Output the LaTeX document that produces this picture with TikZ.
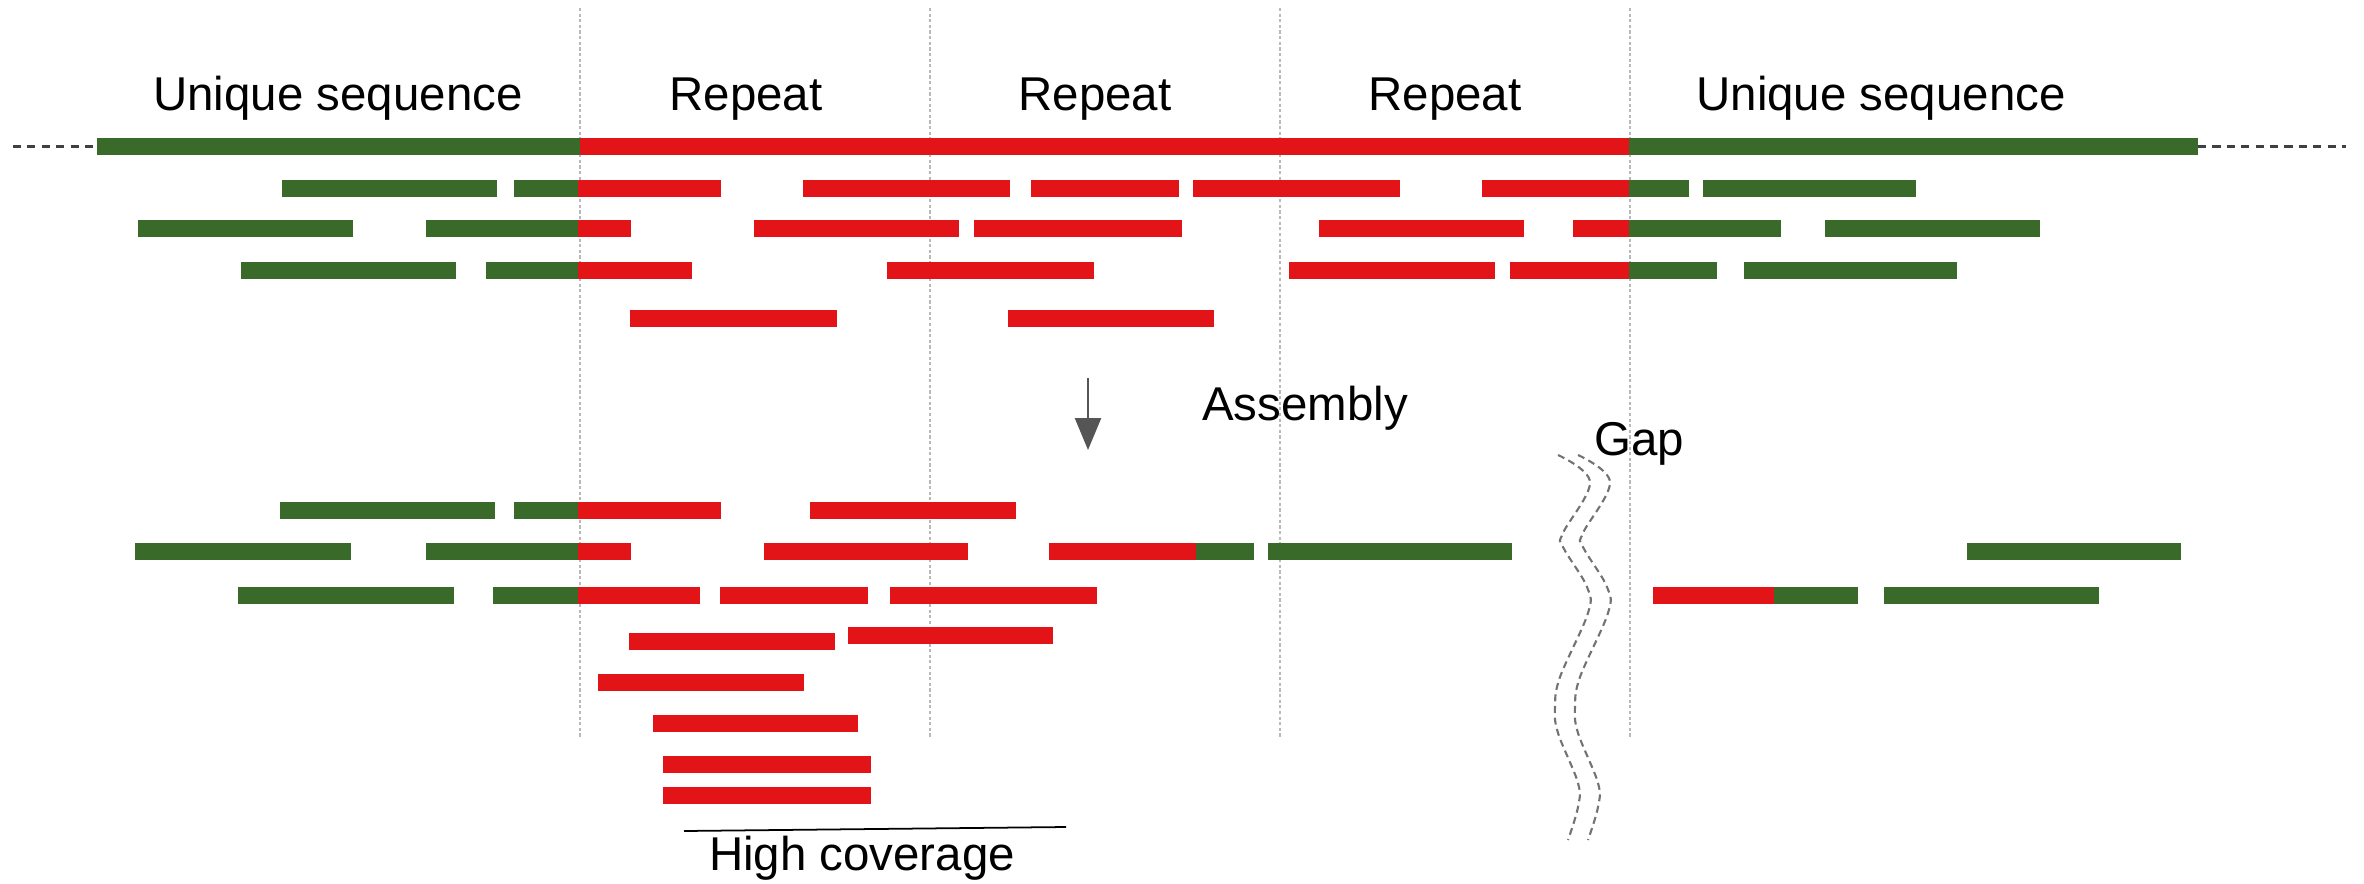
\documentclass[tikz,border=0pt]{standalone}
\usepackage{fontspec}
\setmainfont{Liberation Sans}
\usetikzlibrary{arrows.meta}

\definecolor{uniqgreen}{RGB}{58,106,42}
\definecolor{repred}{RGB}{226,20,24}
\definecolor{arrowgray}{RGB}{85,85,85}

\begin{document}
\begin{tikzpicture}[
  lbl/.style={
      font=\fontsize{13.5}{16}\selectfont,
      inner sep=0pt,
      anchor=base
  },
  uniq/.style={
      fill=uniqgreen
  },
  rep/.style={
      fill=repred
  },
  divider/.style={
      gray!55,
      line width=0.5pt,
      dash pattern=on 0.9pt off 0.7pt
  },
  ext/.style={
      black!75,
      line width=0.6pt,
      dash pattern=on 2.3pt off 1.8pt
  },
  gapline/.style={
      black!55,
      line width=0.6pt,
      dash pattern=on 2pt off 1.3pt
  },
  arrow/.style={
      -{Triangle[length=3.2mm,width=2.6mm]},
      arrowgray,
      line width=0.7pt
  }
]

\useasboundingbox (0,0) rectangle (23.64,-8.83);

% ==================================================
% Region dividers and titles
% ==================================================

\foreach \x in {5.80,9.30,12.80,16.30}
  \draw[divider] (\x,-0.08) -- (\x,-7.38);

\node[lbl] (uleft)  at (3.38,-1.10)  {Unique sequence};
\node[lbl] (rep1)   at (7.46,-1.10)  {Repeat};
\node[lbl] (rep2)   at (10.95,-1.10) {Repeat};
\node[lbl] (rep3)   at (14.45,-1.10) {Repeat};
\node[lbl] (uright) at (18.81,-1.10) {Unique sequence};

% ==================================================
% Genome and reads
% ==================================================

\draw[ext] (0.13,-1.465) -- (0.97,-1.465);
\draw[ext] (21.98,-1.465) -- (23.46,-1.465);
\fill[uniq] (0.97,-1.38) rectangle (5.80,-1.55);
\fill[rep]  (5.80,-1.38) rectangle (16.29,-1.55);
\fill[uniq] (16.29,-1.38) rectangle (21.98,-1.55);

% unique reads
\foreach \a/\b/\y in {
    2.82/4.97/-1.885, 17.03/19.16/-1.885,
    1.38/3.53/-2.285, 18.25/20.40/-2.285,
    2.41/4.56/-2.70,  17.44/19.57/-2.70}
  \fill[uniq] (\a,\y+0.085) rectangle (\b,\y-0.085);

% repeat reads
\foreach \a/\b/\y in {
    8.03/10.10/-1.885, 10.31/11.79/-1.885, 11.93/14.00/-1.885,
    7.54/9.59/-2.285,  9.74/11.82/-2.285,  13.19/15.24/-2.285,
    8.87/10.94/-2.70,  12.89/14.95/-2.70,
    6.30/8.37/-3.185,  10.08/12.14/-3.185}
  \fill[rep] (\a,\y+0.085) rectangle (\b,\y-0.085);

% reads across the left border
\foreach \a/\m/\b/\y in {
    5.14/5.78/7.21/-1.885,
    4.26/5.78/6.31/-2.285,
    4.86/5.78/6.92/-2.70}
{
  \fill[uniq] (\a,\y+0.085) rectangle (\m,\y-0.085);
  \fill[rep]  (\m,\y+0.085) rectangle (\b,\y-0.085);
}

% reads across the right border
\foreach \a/\m/\b/\y in {
    14.82/16.29/16.89/-1.885,
    15.73/16.29/17.81/-2.285,
    15.10/16.29/17.17/-2.70}
{
  \fill[rep]  (\a,\y+0.085) rectangle (\m,\y-0.085);
  \fill[uniq] (\m,\y+0.085) rectangle (\b,\y-0.085);
}

% ==================================================
% Assembly step
% ==================================================

\coordinate (arrtop) at (10.88,-3.78);
\coordinate (arrtip) at (10.88,-4.50);
\draw[arrow] (arrtop) -- (arrtip);

\node[lbl] (asm) at (13.05,-4.20) {Assembly};

% ==================================================
% Assembled contigs
% ==================================================

% unique reads
\foreach \a/\b/\y in {
    2.80/4.95/-5.10,
    1.35/3.51/-5.515, 12.68/15.12/-5.515, 19.67/21.81/-5.515,
    2.38/4.54/-5.95,  18.84/20.99/-5.95}
  \fill[uniq] (\a,\y+0.085) rectangle (\b,\y-0.085);

% collapsed repeat reads
\foreach \a/\b/\y in {
    8.10/10.16/-5.10,
    7.64/9.68/-5.515,
    7.20/8.68/-5.95,  8.90/10.97/-5.95,
    6.29/8.35/-6.41,  8.48/10.53/-6.355,
    5.98/8.04/-6.82,
    6.53/8.58/-7.235,
    6.63/8.71/-7.645,
    6.63/8.71/-7.955}
  \fill[rep] (\a,\y+0.085) rectangle (\b,\y-0.085);

\foreach \a/\m/\b/\y in {
    5.14/5.78/7.21/-5.10,
    4.26/5.78/6.31/-5.515,
    4.93/5.78/7.00/-5.95}
{
  \fill[uniq] (\a,\y+0.085) rectangle (\m,\y-0.085);
  \fill[rep]  (\m,\y+0.085) rectangle (\b,\y-0.085);
}

\foreach \a/\m/\b/\y in {
    10.49/11.96/12.54/-5.515,
    16.53/17.74/18.58/-5.95}
{
  \fill[rep]  (\a,\y+0.085) rectangle (\m,\y-0.085);
  \fill[uniq] (\m,\y+0.085) rectangle (\b,\y-0.085);
}

% ==================================================
% Coverage and gap marks
% ==================================================

\coordinate (covl) at (6.84,-8.31);
\coordinate (covr) at (10.66,-8.27);
\draw[line width=0.5pt] (covl) -- (covr);
\node[lbl] (cov) at (8.62,-8.70) {High coverage};

\node[lbl] (gap) at (16.39,-4.55) {Gap};

\foreach \dx in {0,0.2}
  \draw[gapline, xshift=\dx cm] plot[smooth, tension=0.6] coordinates {
      (15.58,-4.55) (15.90,-4.82) (15.63,-5.33) (15.63,-5.47)
      (15.87,-5.87) (15.88,-6.13) (15.60,-6.77) (15.55,-7.07)
      (15.58,-7.33) (15.78,-7.83) (15.78,-8.07) (15.68,-8.40)};

\end{tikzpicture}
\end{document}
